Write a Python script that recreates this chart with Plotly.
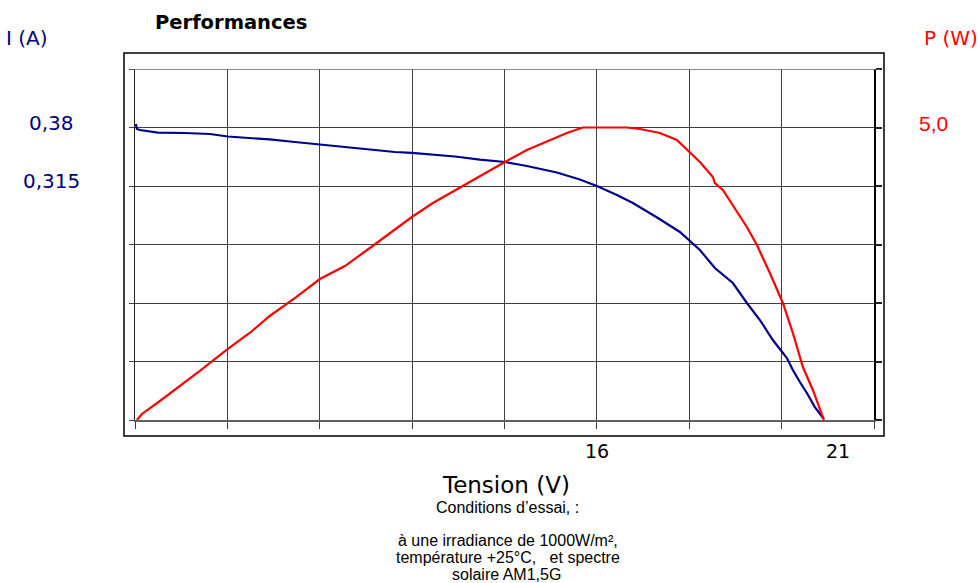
import plotly.graph_objects as go

# ---- data -------------------------------------------------------------
# I-V curve: voltage (V) and current (A)
v_current = [6.436, 6.457, 6.519, 6.892, 7.452, 7.971, 8.344, 8.797, 9.212, 9.734,
             10.253, 10.772, 11.290, 11.809, 12.162, 12.598, 13.054, 13.573, 14.091,
             14.548, 14.921, 15.170, 15.647, 16.0, 16.415, 16.747, 17.266, 17.722,
             18.137, 18.448, 18.822, 19.112, 19.382, 19.651, 19.942, 20.066, 20.212,
             20.357, 20.523, 20.710]
current = [0.3839, 0.3783, 0.3772, 0.3744, 0.3739, 0.3728, 0.3700, 0.3683, 0.3667, 0.3639,
           0.3611, 0.3583, 0.3556, 0.3528, 0.3517, 0.3500, 0.3478, 0.3444, 0.3417,
           0.3372, 0.3328, 0.3300, 0.3222, 0.3150, 0.3050, 0.2961, 0.2794, 0.2639,
           0.2439, 0.2239, 0.2072, 0.1850, 0.1661, 0.1439, 0.1239, 0.1106, 0.0972,
           0.0850, 0.0694, 0.0561]

# P-V curve: voltage (V) and power (W)
v_power = [6.457, 6.562, 6.934, 7.349, 7.763, 8.344, 8.797, 9.212, 9.734, 10.253,
           10.772, 11.290, 11.809, 12.162, 12.598, 13.220, 13.780, 14.091, 14.548,
           15.025, 15.378, 15.710, 16.0, 16.622, 16.892, 17.307, 17.660, 17.929,
           18.137, 18.407, 18.448, 18.614, 18.905, 19.112, 19.320, 19.589, 19.859,
           20.066, 20.274, 20.481, 20.710]
power = [0.0, 0.103, 0.325, 0.581, 0.838, 1.214, 1.487, 1.778, 2.085, 2.410,
         2.632, 2.940, 3.248, 3.470, 3.709, 4.000, 4.274, 4.410, 4.615,
         4.786, 4.906, 5.0, 5.0, 5.0, 4.974, 4.906, 4.786, 4.581,
         4.410, 4.154, 4.051, 3.932, 3.556, 3.299, 2.991, 2.513, 2.0,
         1.487, 0.906, 0.513, 0.0]

# tick labels
x_tick_vals = [16, 21]
x_tick_text = ["16", "21"]
i_tick_vals = [0.38, 0.315]
i_tick_text = ["0,38", "0,315"]
p_tick_vals = [5.0]
p_tick_text = ["5,0"]

# grid layout of the axes (8 columns x 6 rows)
X_STEP = 1.9165
X_MIN = 16 - 5 * X_STEP
X_MAX = 16 + 3 * X_STEP
I_STEP = 0.065
I_MAX = 0.38 + I_STEP
I_MIN = I_MAX - 6 * I_STEP
P_STEP = 1.0
P_MIN, P_MAX = 0.0, 6.0

NAVY = "#000080"
RED = "#FF0000"
GRID = "#404040"
TXT_FONT = "DejaVu Sans"
ARIAL = "Liberation Sans, Arial, sans-serif"

fig = go.Figure()
fig.add_trace(go.Scatter(x=v_current, y=current, mode="lines",
                         line=dict(color="#00008B", width=2.2), yaxis="y",
                         hoverinfo="skip"))
fig.add_trace(go.Scatter(x=v_power, y=power, mode="lines",
                         line=dict(color=RED, width=2.2), yaxis="y2",
                         hoverinfo="skip"))

W, H = 980, 583
L, R, T, B = 135, 106, 69, 163
pw, ph = W - L - R, H - T - B


def px(xp):
    return (xp - L) / pw


def py(yp):
    return (H - B - yp) / ph


fig.update_layout(
    width=W, height=H, autosize=False,
    margin=dict(l=L, r=R, t=T, b=B, pad=0),
    paper_bgcolor="white", plot_bgcolor="white",
    showlegend=False,
    xaxis=dict(range=[X_MIN, X_MAX], tickmode="linear", tick0=X_MIN, dtick=X_STEP,
               showticklabels=False, ticks="outside", ticklen=7, tickcolor=GRID,
               showgrid=True, gridcolor=GRID, gridwidth=1,
               showline=True, linecolor="#606060", linewidth=2, zeroline=False),
    yaxis=dict(range=[I_MIN, I_MAX], tickmode="linear", tick0=I_MIN, dtick=I_STEP,
               showticklabels=False, ticks="outside", ticklen=5, tickcolor=GRID,
               showgrid=True, gridcolor=GRID, gridwidth=1,
               showline=True, linecolor="#202020", linewidth=1, zeroline=False),
    yaxis2=dict(range=[P_MIN, P_MAX], tickmode="linear", tick0=P_MIN, dtick=P_STEP,
                overlaying="y", side="right",
                showticklabels=False, ticks="outside", ticklen=6, tickcolor="#202020",
                tickwidth=2, showgrid=False,
                showline=True, linecolor="#000000", linewidth=2, zeroline=False),
)

# top grid line of the plot area, running across the side ticks
fig.add_shape(type="line", xref="paper", yref="y", x0=px(130), x1=px(880),
              y0=I_MAX, y1=I_MAX, line=dict(color="#606060", width=1.5))

# outer frame
fig.add_shape(type="rect", xref="paper", yref="paper",
              x0=px(124), x1=px(884), y0=py(436), y1=py(53),
              line=dict(color="black", width=1.5), fillcolor="rgba(0,0,0,0)")

ann = []
# x tick labels
for v, t in zip(x_tick_vals, x_tick_text):
    ann.append(dict(x=v, xref="x", y=py(451), yref="paper", text=t, showarrow=False,
                    xanchor="center", yanchor="middle",
                    font=dict(family=TXT_FONT, size=19, color="black")))
# current tick labels
for v, t in zip(i_tick_vals, i_tick_text):
    ann.append(dict(x=px(51), xref="paper", y=v, yref="y", text=t, showarrow=False,
                    xanchor="center", yanchor="middle", yshift=5,
                    font=dict(family=TXT_FONT, size=20, color=NAVY)))
# power tick labels
for v, t in zip(p_tick_vals, p_tick_text):
    ann.append(dict(x=px(933), xref="paper", y=v, yref="y2", text=t, showarrow=False,
                    xanchor="center", yanchor="middle", yshift=4,
                    font=dict(family=ARIAL, size=21, color=RED)))

# titles
ann.append(dict(x=px(231), xref="paper", y=py(22), yref="paper", text="<b>Performances</b>",
                showarrow=False, xanchor="center", yanchor="middle",
                font=dict(family=TXT_FONT, size=19.5, color="black")))
ann.append(dict(x=px(27.5), xref="paper", y=py(38), yref="paper", text="I (A)",
                showarrow=False, xanchor="center", yanchor="middle",
                font=dict(family=TXT_FONT, size=20, color=NAVY)))
ann.append(dict(x=px(951), xref="paper", y=py(38), yref="paper", text="P (W)",
                showarrow=False, xanchor="center", yanchor="middle",
                font=dict(family=TXT_FONT, size=20, color=RED)))
ann.append(dict(x=px(506), xref="paper", y=py(485), yref="paper", text="Tension (V)",
                showarrow=False, xanchor="center", yanchor="middle",
                font=dict(family=TXT_FONT, size=23, color="black")))

# test conditions
notes = [
    ("Conditions d\u2019essai, :", 507, 507),
    ("\u00e0 une irradiance de 1000W/m\u00b2,", 508, 540),
    ("temp\u00e9rature +25\u00b0C,\u00a0\u00a0 et spectre", 508, 557),
    ("solaire AM1,5G", 506, 574),
]
for text, xc, yc in notes:
    ann.append(dict(x=px(xc), xref="paper", y=py(yc), yref="paper", text=text,
                    showarrow=False, xanchor="center", yanchor="middle",
                    font=dict(family=ARIAL, size=16, color="black")))

fig.update_layout(annotations=ann)
fig.write_html("out.html")
